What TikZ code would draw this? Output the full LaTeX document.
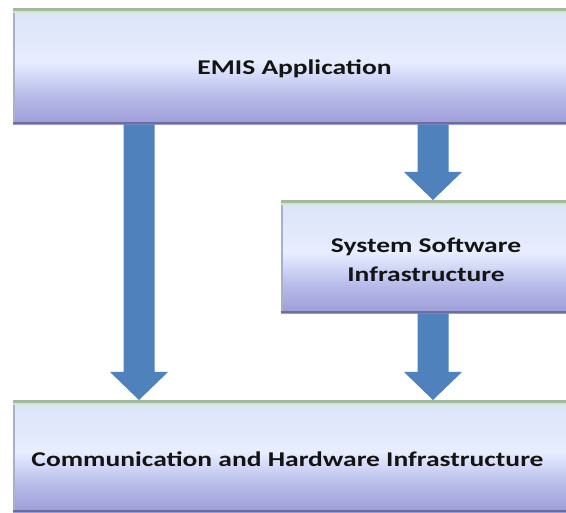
\documentclass[tikz,border=0pt]{standalone}
\usepackage{fontspec}
\setmainfont{Carlito}
\usetikzlibrary{calc}

\definecolor{arrowblue}{HTML}{4F81BD}
\definecolor{shTop}{HTML}{DCE4F8}
\definecolor{shUpper}{HTML}{E2E9FB}
\definecolor{shLight}{HTML}{E8EEFE}
\definecolor{shMid}{HTML}{D0D6F6}
\definecolor{shLow}{HTML}{B6BAE8}
\definecolor{shLower}{HTML}{A4A4DC}
\definecolor{shBot}{HTML}{9C9CD4}
\definecolor{edgeGreen}{HTML}{A2B8A0}
\definecolor{edgeGreenLight}{HTML}{D4E4D4}
\definecolor{edgeDark}{HTML}{6C6CA0}
\definecolor{edgeLeft}{HTML}{A8B0CC}
\definecolor{labelInk}{HTML}{141414}

% bevelled panel fill: light at the top, lightest a little above the middle,
% lavender towards the bottom (path spans 25bp..75bp)
\pgfdeclareverticalshading{panelshade}{100bp}{%
  color(0bp)=(shBot); color(25bp)=(shBot); color(28bp)=(shLower);
  color(37bp)=(shLow); color(45bp)=(shMid); color(52bp)=(shLight);
  color(60bp)=(shUpper); color(75bp)=(shTop); color(100bp)=(shTop)}

% fat block arrow pointing down from #1 to #2
\newcommand\blockarrow[2]{%
  \fill[arrowblue] let \p1=(#1), \p2=(#2) in
    (\x1-15.5pt,\y1) -- (\x1-15.5pt,\y2+28pt) -- (\x1-29pt,\y2+28pt)
    -- (\x1,\y2) -- (\x1+29pt,\y2+28pt) -- (\x1+15.5pt,\y2+28pt)
    -- (\x1+15.5pt,\y1) -- cycle;}

\tikzset{
  panel/.style={rectangle, inner sep=0pt, anchor=north west, shading=panelshade,
    path picture={
      \fill[edgeLeft] (path picture bounding box.north west)
        rectangle ([xshift=2pt]path picture bounding box.south west);
      \fill[edgeGreen] (path picture bounding box.north west)
        rectangle ([yshift=-3pt]path picture bounding box.north east);
      \fill[edgeGreenLight] ([yshift=-3pt]path picture bounding box.north west)
        rectangle ([yshift=-5pt]path picture bounding box.north east);
      \fill[edgeDark] (path picture bounding box.south west)
        rectangle ([yshift=2pt]path picture bounding box.south east);
    }},
  paneltext/.style={anchor=base, inner sep=0pt, text=labelInk,
    font=\fontsize{21}{28}\selectfont\bfseries},
}
\newcommand\widetext[1]{\scalebox{1.31}[1]{#1}}

\begin{document}
\begin{tikzpicture}[x=1pt,y=-1pt]
  \useasboundingbox (0,0) rectangle (566,513);
  \clip (0,0) rectangle (566,513);
  \fill[white] (0,0) rectangle (566,513);

  % panels
  \node[panel, minimum width=563pt, minimum height=116pt] (app) at (13,8) {};
  \node[panel, minimum width=295pt, minimum height=113pt] (sys) at (281,200) {};
  \node[panel, minimum width=563pt, minimum height=112pt] (hw) at (13,400) {};

  % labels
  \node[paneltext] (appLabel) at (294.5,75) {\widetext{EMIS Application}};
  \node[paneltext] (sysLabelA) at (426,252.5) {\widetext{System Software}};
  \node[paneltext] (sysLabelB) at (426,281.5) {\widetext{Infrastructure}};
  \node[paneltext] (hwLabel) at (287.5,466.5) {\widetext{Communication and Hardware Infrastructure}};

  % arrow columns
  \coordinate (leftCol) at (139,0);
  \coordinate (rightCol) at (433,0);

  \blockarrow{app.south -| leftCol}{hw.north -| leftCol}
  \blockarrow{app.south -| rightCol}{sys.north -| rightCol}
  \blockarrow{sys.south -| rightCol}{hw.north -| rightCol}
\end{tikzpicture}
\end{document}
